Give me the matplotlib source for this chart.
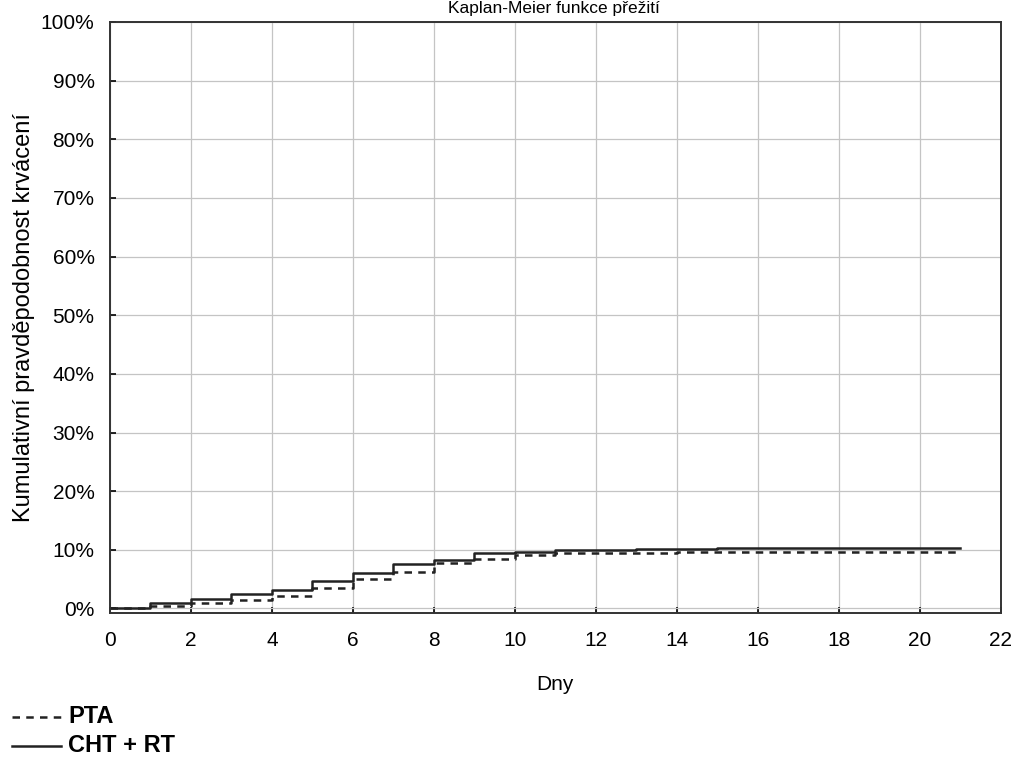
import matplotlib.pyplot as plt
from matplotlib.ticker import PercentFormatter

plt.rcParams['font.family'] = ['Liberation Sans', 'DejaVu Sans']

# days (step start) and cumulative bleeding probability in %
days = [0, 1, 2, 3, 4, 5, 6, 7, 8, 9, 10, 11, 12, 13, 14, 15, 21]
cht_rt = [0.1, 0.85, 1.6, 2.4, 3.2, 4.6, 6.1, 7.6, 8.3, 9.4, 9.7, 9.9, 10.0, 10.15, 10.2, 10.25, 10.25]
pta = [0.0, 0.5, 0.9, 1.45, 2.1, 3.5, 5.0, 6.2, 7.8, 8.5, 9.2, 9.4, 9.5, 9.5, 9.6, 9.65, 9.7]

fig = plt.figure(figsize=(10.17, 7.57), dpi=100)
ax = fig.add_axes([0.108, 0.19, 0.876, 0.781])

ax.step(days, pta, where='post', color='#222222', lw=1.8, ls=(0, (3, 2.5)))
ax.step(days, cht_rt, where='post', color='#222222', lw=1.8)

ax.set_xlim(0, 22)
ax.set_ylim(-0.8, 100)
ax.set_xticks(range(0, 23, 2))
ax.set_yticks(range(0, 101, 10))
ax.yaxis.set_major_formatter(PercentFormatter(decimals=0))
ax.grid(True, color='#c4c4c4', lw=0.9)
ax.tick_params(direction='in', length=4, labelsize=15, width=1.2)
ax.tick_params(axis='y', pad=11)
ax.tick_params(axis='x', pad=13)
for s in ax.spines.values():
    s.set_linewidth(1.4)
    s.set_color('#333333')

ax.set_xlabel('Dny', fontsize=15, labelpad=18)
ax.set_ylabel('Kumulativní pravděpodobnost krvácení', fontsize=17, labelpad=4)
fig.text(0.545, 0.999, 'Kaplan-Meier funkce přežití', ha='center', va='top', fontsize=12.5)

# legend below the chart
fig.lines.append(plt.Line2D([0.012, 0.06], [0.053, 0.053], transform=fig.transFigure,
                            color='#222222', lw=1.8, ls=(0, (3, 2.5))))
fig.lines.append(plt.Line2D([0.012, 0.06], [0.015, 0.015], transform=fig.transFigure,
                            color='#222222', lw=1.8))
fig.text(0.067, 0.053, 'PTA', fontsize=17, fontweight='bold', va='center')
fig.text(0.067, 0.015, 'CHT + RT', fontsize=17, fontweight='bold', va='center')

fig.savefig('out.png', dpi=100)
